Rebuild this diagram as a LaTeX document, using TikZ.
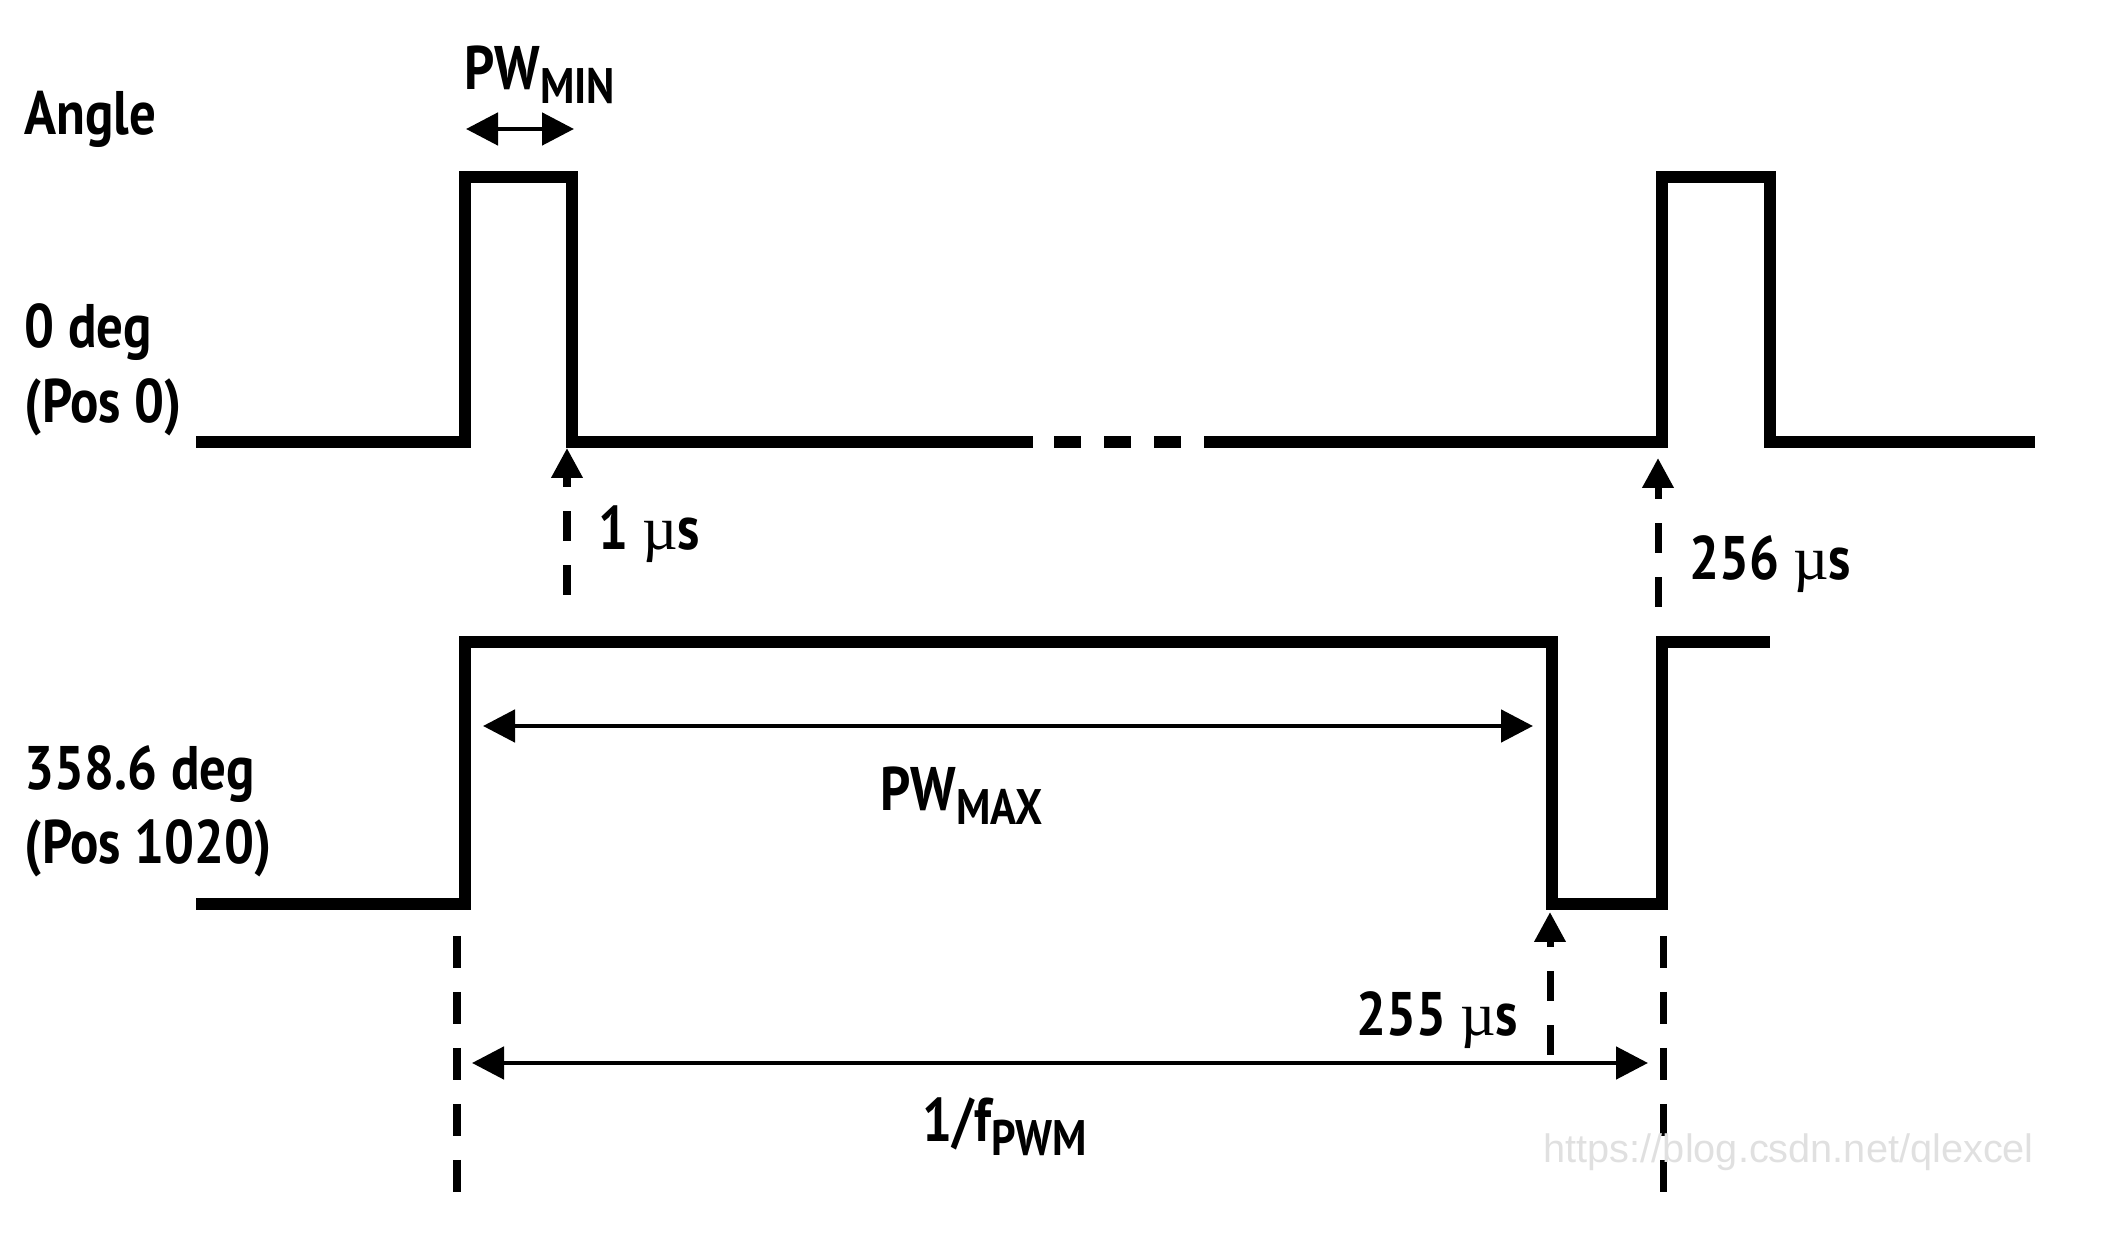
\documentclass[tikz,border=0pt]{standalone}
\usepackage{fontspec}
\setmainfont{PT Sans}[FakeStretch=0.86]
\newfontfamily\mufont{Liberation Serif}
\newfontfamily\wmfont{Liberation Sans}
\usetikzlibrary{arrows.meta}

\newcommand{\lowsub}[1]{\raisebox{-0.22em}{\fontsize{14.2}{16}\selectfont #1}}
\newcommand{\mus}{{\mufont\mdseries µ}s}

\begin{document}
\begin{tikzpicture}[font=\fontsize{17.5}{21}\selectfont\bfseries]

% ---------- common style ----------
\tikzstyle{wave}=[line width=3.4pt,line join=miter]
\tikzstyle{dimline}=[line width=1.4pt,{Triangle[length=3.2mm,width=3.2mm]}-{Triangle[length=3.2mm,width=3.2mm]}]
\tikzstyle{marker}=[line width=2pt,dash pattern=on 3mm off 2.4mm,-{Triangle[length=3mm,width=3mm]}]
\tikzstyle{guide}=[line width=2pt,dash pattern=on 3.2mm off 2.4mm]
\tikzstyle{lbl}=[anchor=base west,inner sep=0pt]

\useasboundingbox (0,0) rectangle (21.27,12.38);

% ================== row labels ==================
\node[lbl] (angle)   at (0.24,11.03) {Angle};
\node[lbl] (deg0)    at (0.24,8.90)  {0 deg};
\node[lbl] (pos0)    at (0.24,8.15)  {(Pos 0)};
\node[lbl] (deg358)  at (0.24,4.48)  {358.6 deg};
\node[lbl] (pos1020) at (0.24,3.74)  {(Pos 1020)};

% ================== top waveform: 0 deg ==================
\draw[wave] (1.96,7.96) -- (4.65,7.96) -- (4.65,10.61) -- (5.72,10.61)
            -- (5.72,7.96) -- (10.33,7.96);
% broken time axis
\foreach \x in {10.54,11.04,11.54}
  \draw[wave] (\x,7.96) -- ++(0.27,0);
\draw[wave] (12.04,7.96) -- (16.62,7.96) -- (16.62,10.61) -- (17.70,10.61)
            -- (17.70,7.96) -- (20.35,7.96);

% ================== bottom waveform: 358.6 deg ==================
\draw[wave] (1.96,3.34) -- (4.65,3.34) -- (4.65,5.96) -- (15.52,5.96)
            -- (15.52,3.34) -- (16.62,3.34) -- (16.62,5.96) -- (17.70,5.96);

% ---------- arrow end points ----------
\coordinate (minL) at (4.66,11.09);
\coordinate (minR) at (5.74,11.09);
\coordinate (maxL) at (4.83,5.12);
\coordinate (maxR) at (15.33,5.12);
\coordinate (perL) at (4.72,1.75);
\coordinate (perR) at (16.48,1.75);
\coordinate (t1a)   at (5.67,6.43);
\coordinate (t1b)   at (5.67,7.90);
\coordinate (t256a) at (16.58,6.31);
\coordinate (t256b) at (16.58,7.80);
\coordinate (t255a) at (15.50,1.83);
\coordinate (t255b) at (15.50,3.26);
\coordinate (gLa) at (4.57,3.02);
\coordinate (gLb) at (4.57,0.45);
\coordinate (gRa) at (16.63,3.02);
\coordinate (gRb) at (16.63,0.45);

% widths
\draw[dimline] (minL) -- (minR);
\draw[dimline] (maxL) -- (maxR);
\draw[dimline] (perL) -- (perR);

% edge markers
\draw[marker] (t1a) -- (t1b);
\draw[marker] (t256a) -- (t256b);
\draw[marker] (t255a) -- (t255b);

% period guides
\draw[guide] (gLa) -- (gLb);
\draw[guide] (gRa) -- (gRb);

% ================== labels ==================
\node[lbl] (pwmin)  at (4.64,11.48) {PW\lowsub{MIN}};
\node[lbl] (pwmax)  at (8.80,4.27)  {PW\lowsub{MAX}};
\node[lbl] (period) at (9.22,0.96)  {1/f\lowsub{PWM}};
\node[lbl] (lbl1)   at (5.98,6.88)  {1 \mus};
\node[lbl] (lbl256) at (16.89,6.58) {256 \mus};
\node[lbl] (lbl255) at (13.56,2.02) {255 \mus};

\node[lbl,font=\wmfont\fontsize{11.3}{13}\selectfont,text=black!12] (wmark)
  at (15.43,0.76) {https://blog.csdn.net/qlexcel};

\end{tikzpicture}
\end{document}
